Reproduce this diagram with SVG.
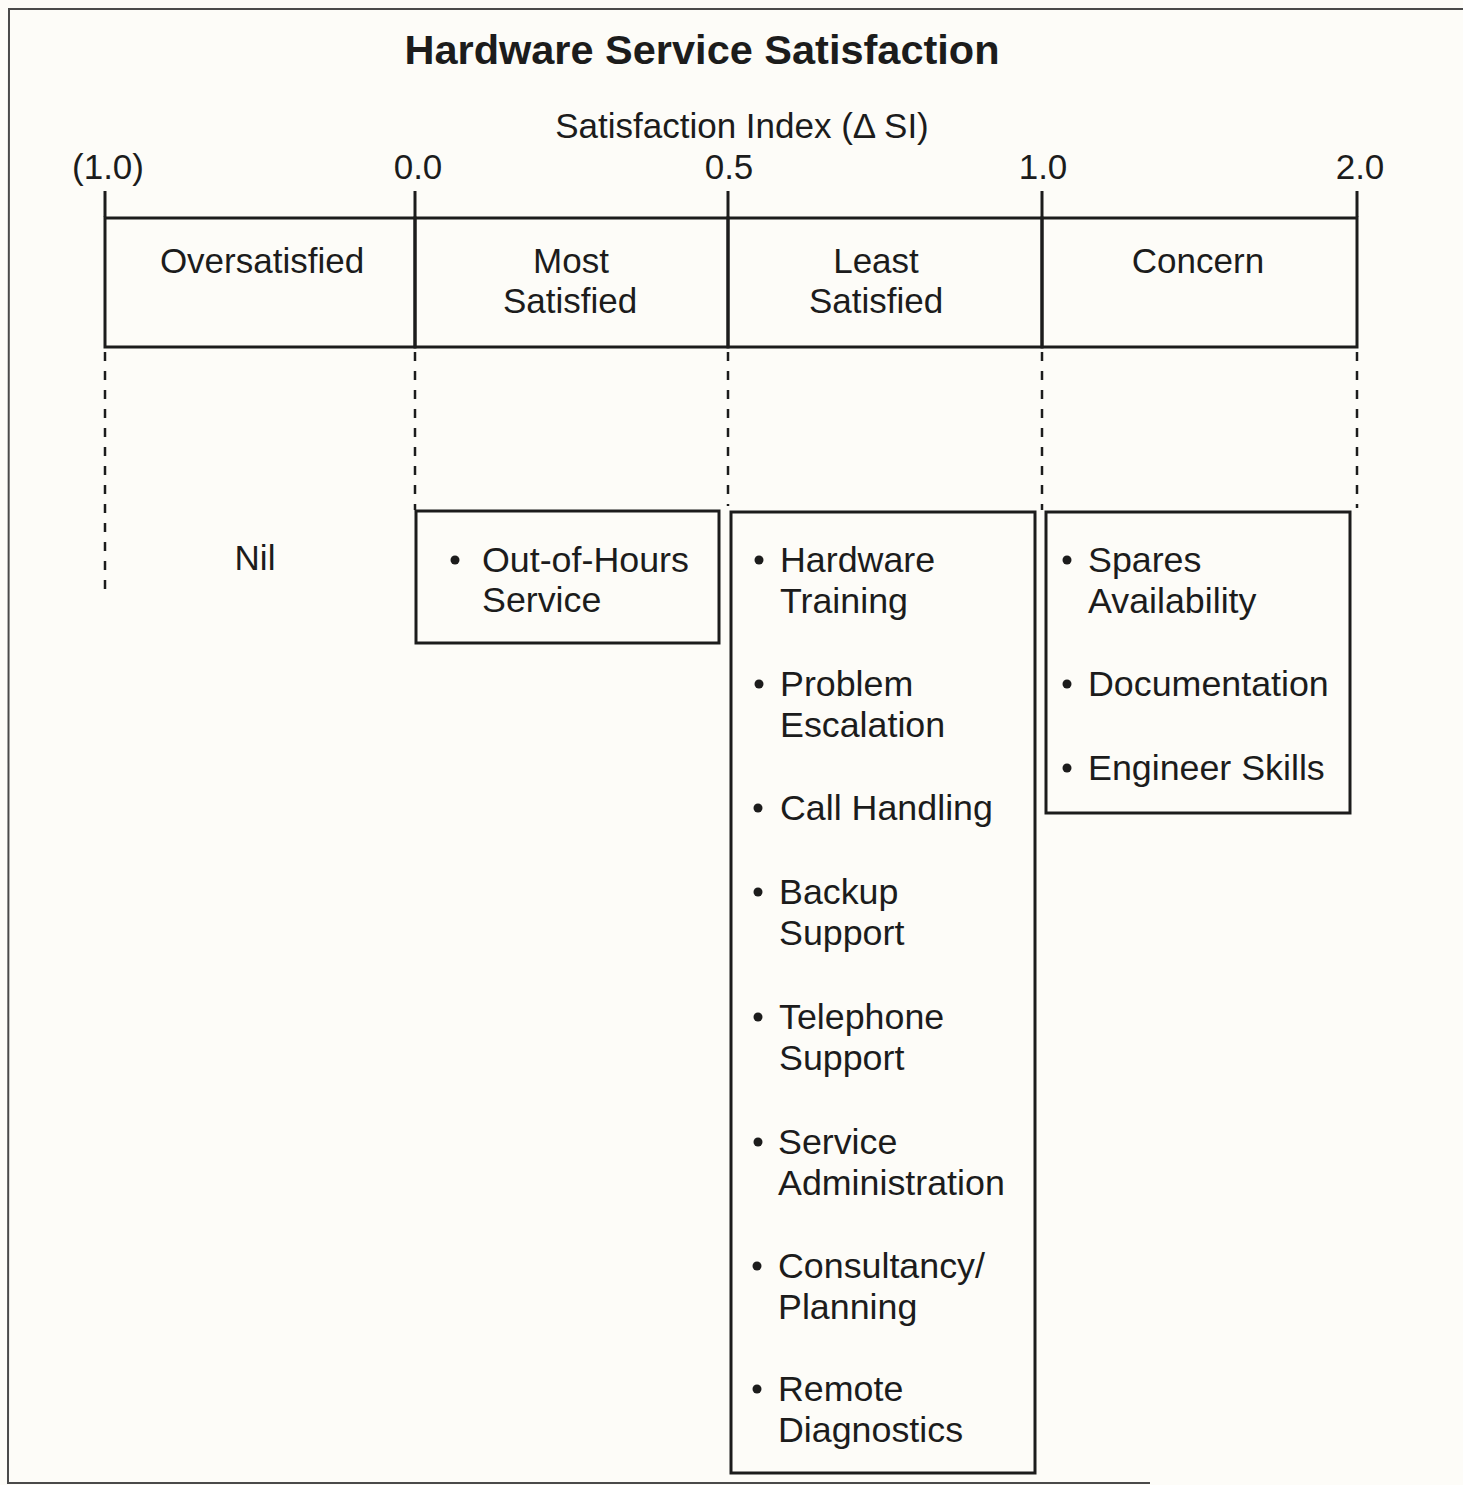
<svg xmlns="http://www.w3.org/2000/svg" width="1463" height="1485" viewBox="0 0 1463 1485">
<style>
text{font-family:"Liberation Sans",Arial,sans-serif;fill:#1c1c1c}
.t{font-size:35.8px}
.h{font-size:35px}
.title{font-size:41.5px;font-weight:bold}
.ln{stroke:#1c1c1c;stroke-width:3;fill:none}
.dash{stroke:#1c1c1c;stroke-width:2.5;stroke-dasharray:9 10;fill:none}
.box{stroke:#1c1c1c;stroke-width:3;fill:none}
.c{text-anchor:middle}
</style>
<rect width="1463" height="1485" fill="#fdfcf8"/>
<polyline points="1463,9 9,9 8,1483 1150,1483" fill="none" stroke="#4a4a4a" stroke-width="2"/>

<g id="title"><text class="title c" x="702" y="64">Hardware Service Satisfaction</text></g>
<g id="axis">
<text class="h c" x="742" y="138">Satisfaction Index (Δ SI)</text>
<text class="h c" x="108" y="179">(1.0)</text>
<text class="h c" x="418" y="179">0.0</text>
<text class="h c" x="729" y="179">0.5</text>
<text class="h c" x="1043" y="179">1.0</text>
<text class="h c" x="1360" y="179">2.0</text>
<path class="ln" d="M105,191V217M415,191V217M728,191V217M1042,191V217M1357,191V217"/>
</g>

<g id="band-oversatisfied"><rect class="box" x="105" y="218" width="310" height="129"/><text class="h c" x="262" y="273">Oversatisfied</text></g>
<g id="band-most"><rect class="box" x="415" y="218" width="313" height="129"/><text class="h c" x="571" y="273">Most</text><text class="h c" x="570" y="313">Satisfied</text></g>
<g id="band-least"><rect class="box" x="728" y="218" width="314" height="129"/><text class="h c" x="876" y="273">Least</text><text class="h c" x="876" y="313">Satisfied</text></g>
<g id="band-concern"><rect class="box" x="1042" y="218" width="315" height="129"/><text class="h c" x="1198" y="273">Concern</text></g>

<g id="connectors">
<path class="dash" d="M105,352V592"/>
<path class="dash" d="M415,352V510"/>
<path class="dash" d="M728,352V506"/>
<path class="dash" d="M1042,352V510"/>
<path class="dash" d="M1357,352V508"/>
</g>

<g id="nil"><text class="h c" x="255" y="570">Nil</text></g>

<g id="box-most">
<rect class="box" x="416" y="511" width="303" height="132"/>
<circle cx="455" cy="560" r="4.5" fill="#1c1c1c"/>
<text class="t" x="482" y="572">Out-of-Hours</text>
<text class="t" x="482" y="612">Service</text>
</g>

<g id="box-least">
<rect class="box" x="731" y="512" width="304" height="961"/>
<g fill="#1c1c1c">
<circle cx="759" cy="560" r="4.5"/><circle cx="759" cy="684" r="4.5"/><circle cx="758" cy="808" r="4.5"/><circle cx="758" cy="892" r="4.5"/><circle cx="758" cy="1017" r="4.5"/><circle cx="758" cy="1142" r="4.5"/><circle cx="757" cy="1266" r="4.5"/><circle cx="757" cy="1389" r="4.5"/>
</g>
<text class="t" x="780" y="572">Hardware</text>
<text class="t" x="780" y="613">Training</text>
<text class="t" x="780" y="696">Problem</text>
<text class="t" x="780" y="737">Escalation</text>
<text class="t" x="780" y="820">Call Handling</text>
<text class="t" x="779" y="904">Backup</text>
<text class="t" x="779" y="945">Support</text>
<text class="t" x="779" y="1029">Telephone</text>
<text class="t" x="779" y="1070">Support</text>
<text class="t" x="778" y="1154">Service</text>
<text class="t" x="778" y="1195">Administration</text>
<text class="t" x="778" y="1278">Consultancy/</text>
<text class="t" x="778" y="1319">Planning</text>
<text class="t" x="778" y="1401">Remote</text>
<text class="t" x="778" y="1442">Diagnostics</text>
</g>

<g id="box-concern">
<rect class="box" x="1046" y="512" width="304" height="301"/>
<g fill="#1c1c1c"><circle cx="1067" cy="560" r="4.5"/><circle cx="1067" cy="684" r="4.5"/><circle cx="1067" cy="768" r="4.5"/></g>
<text class="t" x="1088" y="572">Spares</text>
<text class="t" x="1088" y="613">Availability</text>
<text class="t" x="1088" y="696">Documentation</text>
<text class="t" x="1088" y="780">Engineer Skills</text>
</g>
</svg>
